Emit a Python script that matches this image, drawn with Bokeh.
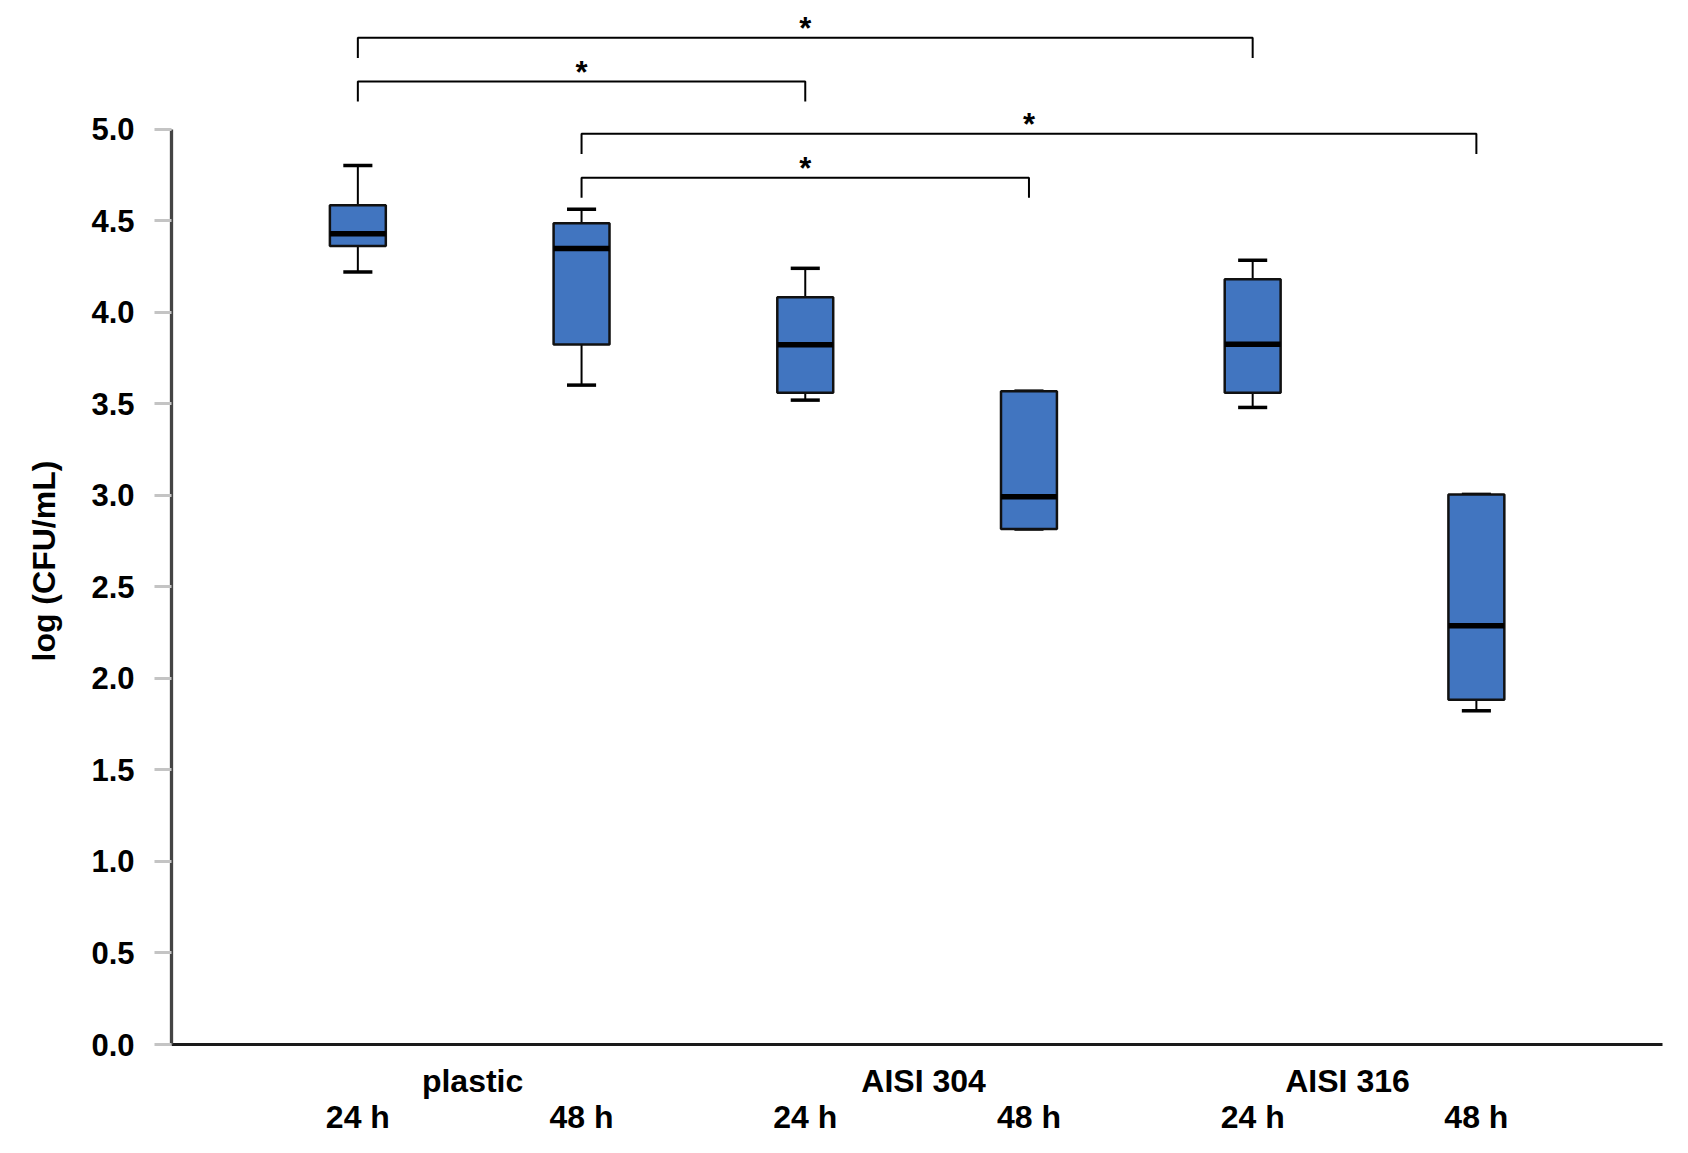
import numpy as np
from bokeh.plotting import figure
from bokeh.models import FixedTicker, LinearAxis, Range1d, PrintfTickFormatter, Title
from bokeh.core.properties import value
from bokeh.embed import file_html
from bokeh.resources import INLINE

# ---- data ----
materials = ["plastic", "AISI 304", "AISI 316"]
times = ["24 h", "48 h", "24 h", "48 h", "24 h", "48 h"]
positions = [1, 2, 3, 4, 5, 6]
whisker_low = [4.220, 3.602, 3.520, 2.816, 3.480, 1.823]
q1 = [4.362, 3.824, 3.560, 2.816, 3.560, 1.883]
median = [4.429, 4.348, 3.822, 2.992, 3.825, 2.287]
q3 = [4.584, 4.486, 4.082, 3.569, 4.180, 3.005]
whisker_high = [4.802, 4.562, 4.240, 3.569, 4.284, 3.005]

# significance brackets
sig_left = [1, 1, 2, 2]
sig_right = [5, 3, 6, 4]
sig_height = [5.499, 5.261, 4.975, 4.735]
sig_text = ["*", "*", "*", "*"]

y_ticks = [0.0, 0.5, 1.0, 1.5, 2.0, 2.5, 3.0, 3.5, 4.0, 4.5, 5.0]
group_label_pos = [1.513, 3.529, 5.424]
y_title = "log (CFU/mL)"

# ---- style ----
FONT = "Liberation Sans"
BOX_FILL = "#4175C0"
box_w = 0.25
cap_w = 0.13
leg_drop = 0.11

p = figure(width=1672, height=1137, output_backend="svg", toolbar_location=None,
           x_range=Range1d(0.167, 6.832), y_range=Range1d(0, 5.703),
           min_border_left=171, min_border_right=10, min_border_top=0,
           min_border_bottom=92)
p.outline_line_color = None
p.xgrid.visible = False
p.ygrid.visible = False
p.background_fill_color = "white"
p.border_fill_color = "white"

# y axis
ya = p.yaxis[0]
ya.ticker = FixedTicker(ticks=y_ticks)
ya.formatter = PrintfTickFormatter(format="%.1f")
ya.bounds = (0, 5)
ya.axis_line_color = "#444444"
ya.axis_line_width = 3.3
ya.major_tick_in = 0
ya.major_tick_out = 17
ya.major_tick_line_color = "#c4c4c4"
ya.major_tick_line_width = 3
ya.minor_tick_line_color = None
ya.major_label_standoff = 20
ya.major_label_text_font = FONT
ya.major_label_text_font_style = "bold"
ya.major_label_text_font_size = "31px"
ya.major_label_text_color = "black"

# y axis title (left side panel)
p.add_layout(Title(text=y_title, align="left", offset=383, standoff=50, vertical_align="top",
                   text_font=FONT, text_font_style="bold", text_font_size="32px",
                   text_color="black"), "left")

# x axis: material names (closest to the plot)
xa = p.xaxis[0]
xa.ticker = FixedTicker(ticks=group_label_pos)
xa.major_label_overrides = {pos: name for pos, name in zip(group_label_pos, materials)}
xa.axis_line_color = "#1a1a1a"
xa.axis_line_width = 3
xa.major_tick_in = 0
xa.major_tick_out = 0
xa.major_tick_line_color = None
xa.minor_tick_line_color = None
xa.major_label_standoff = 18
xa.major_label_text_font = FONT
xa.major_label_text_font_style = "bold"
xa.major_label_text_font_size = "32px"
xa.major_label_text_color = "black"

# x axis: times (below)
xb = LinearAxis(ticker=FixedTicker(ticks=positions))
xb.major_label_overrides = {pos: t for pos, t in zip(positions, times)}
xb.axis_line_color = None
xb.major_tick_in = 0
xb.major_tick_out = 0
xb.major_tick_line_color = None
xb.minor_tick_line_color = None
xb.major_label_standoff = -3
xb.major_label_text_font = FONT
xb.major_label_text_font_style = "bold"
xb.major_label_text_font_size = "32px"
xb.major_label_text_color = "black"
p.add_layout(xb, "below")

# whiskers
p.segment(x0=positions, y0=q3, x1=positions, y1=whisker_high, line_color="black", line_width=2)
p.segment(x0=positions, y0=q1, x1=positions, y1=whisker_low, line_color="black", line_width=2)
cap_l = [x - cap_w / 2 for x in positions]
cap_r = [x + cap_w / 2 for x in positions]
p.segment(x0=cap_l, y0=whisker_high, x1=cap_r, y1=whisker_high, line_color="black", line_width=3.5)
p.segment(x0=cap_l, y0=whisker_low, x1=cap_r, y1=whisker_low, line_color="black", line_width=3.5)

# boxes
p.vbar(x=positions, width=box_w, top=q3, bottom=q1, fill_color=BOX_FILL,
       line_color="#111111", line_width=2.5)
med_l = [x - box_w / 2 for x in positions]
med_r = [x + box_w / 2 for x in positions]
p.segment(x0=med_l, y0=median, x1=med_r, y1=median, line_color="black", line_width=5.5)

# significance brackets
xs = [[l, l, r, r] for l, r in zip(sig_left, sig_right)]
ys = [[h - leg_drop, h, h, h - leg_drop] for h in sig_height]
p.multi_line(xs=xs, ys=ys, line_color="black", line_width=2)
p.text(x=[(l + r) / 2 for l, r in zip(sig_left, sig_right)], y=sig_height, text=sig_text,
       text_font=value(FONT), text_font_style="bold", text_font_size="31px",
       text_align="center", text_baseline="alphabetic", y_offset=-9, text_color="black")

open("out.html", "w").write(file_html(p, INLINE))
